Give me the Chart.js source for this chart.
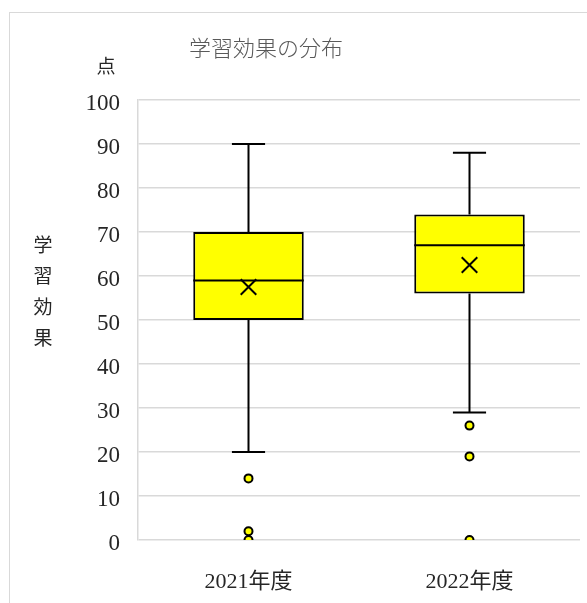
<!DOCTYPE html>
<html lang="ja">
<head>
<meta charset="utf-8">
<title>学習効果の分布</title>
<script src="https://cdn.jsdelivr.net/npm/chart.js@4.4.1/dist/chart.umd.min.js"></script>
<style>
  html, body { margin: 0; padding: 0; background: #fff; }
  #wrap { position: relative; width: 587px; height: 603px; }
  canvas { display: block; }
</style>
</head>
<body>
<div id="wrap"><canvas id="chart" width="587" height="603"></canvas></div>
<script>
// Box-plot summary per school year
const categories = ['2021年度', '2022年度'];
const whiskerLow  = [20, 29];
const quartile1   = [50, 56];
const medians     = [59, 67];
const quartile3   = [70, 74];
const whiskerHigh = [90, 88];
const means       = [57.5, 62.5];
const outliers2021 = [14, 2, 0];
const outliers2022 = [26, 19, 0];
const yTicks = [0, 10, 20, 30, 40, 50, 60, 70, 80, 90, 100];

const outlierPoints = [
  ...outliers2021.map(v => ({ x: categories[0], y: v })),
  ...outliers2022.map(v => ({ x: categories[1], y: v }))
];
const meanPoints = means.map((v, i) => ({ x: categories[i], y: v }));

// Outer frame, titles drawn on the canvas
const framePlugin = {
  id: 'frame',
  beforeDraw(chart) {
    const ctx = chart.ctx;
    ctx.save();
    ctx.fillStyle = '#fff';
    ctx.fillRect(0, 0, chart.width, chart.height);
    ctx.strokeStyle = '#d9d9d9';
    ctx.lineWidth = 1;
    ctx.strokeRect(9.5, 12.5, 800, 800);
    ctx.restore();
  },
  afterDraw(chart) {
    const ctx = chart.ctx;
    ctx.save();
    ctx.fillStyle = '#595959';
    ctx.font = '300 22px "Noto Sans CJK JP", sans-serif';
    ctx.textAlign = 'center';
    ctx.textBaseline = 'middle';
    ctx.fillText('学習効果の分布', 266, 48);

    ctx.fillStyle = '#262626';
    ctx.font = '19px "Noto Sans CJK JP", sans-serif';
    ctx.fillText('点', 106, 66);

    const axisTitle = ['学', '習', '効', '果'];
    axisTitle.forEach((ch, i) => ctx.fillText(ch, 43, 245 + i * 31));
    ctx.restore();
  }
};

// Whiskers, caps and median lines, placed through the chart scales
const boxPlugin = {
  id: 'boxParts',
  afterDatasetDraw(chart, args) {
    if (args.index !== 0) return;
    const ctx = chart.ctx;
    const x = chart.scales.x, y = chart.scales.y;
    const bars = chart.getDatasetMeta(0).data;
    ctx.save();
    ctx.strokeStyle = '#000';
    ctx.lineWidth = 2;
    categories.forEach((c, i) => {
      const cx = x.getPixelForValue(i);
      const half = bars[i].width / 2;
      const cap = bars[i].width * 0.15;
      const yLo = y.getPixelForValue(whiskerLow[i]);
      const yQ1 = y.getPixelForValue(quartile1[i]);
      const yQ3 = y.getPixelForValue(quartile3[i]);
      const yHi = y.getPixelForValue(whiskerHigh[i]);
      const yMed = y.getPixelForValue(medians[i]);
      ctx.beginPath();
      ctx.moveTo(cx, yQ3); ctx.lineTo(cx, yHi);
      ctx.moveTo(cx - cap, yHi); ctx.lineTo(cx + cap, yHi);
      ctx.moveTo(cx, yQ1); ctx.lineTo(cx, yLo);
      ctx.moveTo(cx - cap, yLo); ctx.lineTo(cx + cap, yLo);
      ctx.moveTo(cx - half, yMed); ctx.lineTo(cx + half, yMed);
      ctx.stroke();
    });
    ctx.restore();
  }
};

new Chart(document.getElementById('chart'), {
  type: 'bar',
  data: {
    labels: categories,
    datasets: [
      {
        label: 'box',
        data: quartile1.map((q, i) => [q, quartile3[i]]),
        backgroundColor: '#ffff00',
        borderColor: '#000',
        borderWidth: 2,
        borderSkipped: false,
        barPercentage: 0.5,
        categoryPercentage: 1.0,
        order: 3
      },
      {
        type: 'line',
        label: 'mean',
        data: meanPoints,
        showLine: false,
        pointStyle: 'crossRot',
        pointRadius: 11,
        pointBorderColor: '#000',
        pointBorderWidth: 2,
        order: 2
      },
      {
        type: 'line',
        label: 'outliers',
        data: outlierPoints,
        showLine: false,
        pointStyle: 'circle',
        pointRadius: 4,
        pointBackgroundColor: '#ffff00',
        pointBorderColor: '#000',
        pointBorderWidth: 2,
        order: 1
      }
    ]
  },
  options: {
    responsive: false,
    animation: false,
    layout: { autoPadding: false, padding: { top: 100, right: 7, left: 0, bottom: 0 } },
    plugins: {
      legend: { display: false },
      tooltip: { enabled: false },
      title: { display: false }
    },
    scales: {
      x: {
        type: 'category',
        grid: { display: false, drawTicks: false },
        border: { display: false },
        ticks: {
          color: '#262626',
          padding: 29,
          font: { family: '"Liberation Serif", "Noto Sans CJK JP", serif', size: 22 }
        },
        afterFit(scale) {
          scale.height = 63;
          scale.paddingLeft = 0;
          scale.paddingRight = 0;
        }
      },
      y: {
        min: 0,
        max: 100,
        afterBuildTicks(scale) { scale.ticks = yTicks.map(v => ({ value: v })); },
        grid: { color: '#d9d9d9', lineWidth: 1.5, drawTicks: false },
        border: { display: true, color: '#d9d9d9', width: 1.5 },
        ticks: {
          color: '#262626',
          padding: 18,
          labelOffset: 4,
          font: { family: '"Liberation Serif", serif', size: 23 }
        },
        afterFit(scale) { scale.width = 138; }
      }
    }
  },
  plugins: [framePlugin, boxPlugin]
});
</script>
</body>
</html>
